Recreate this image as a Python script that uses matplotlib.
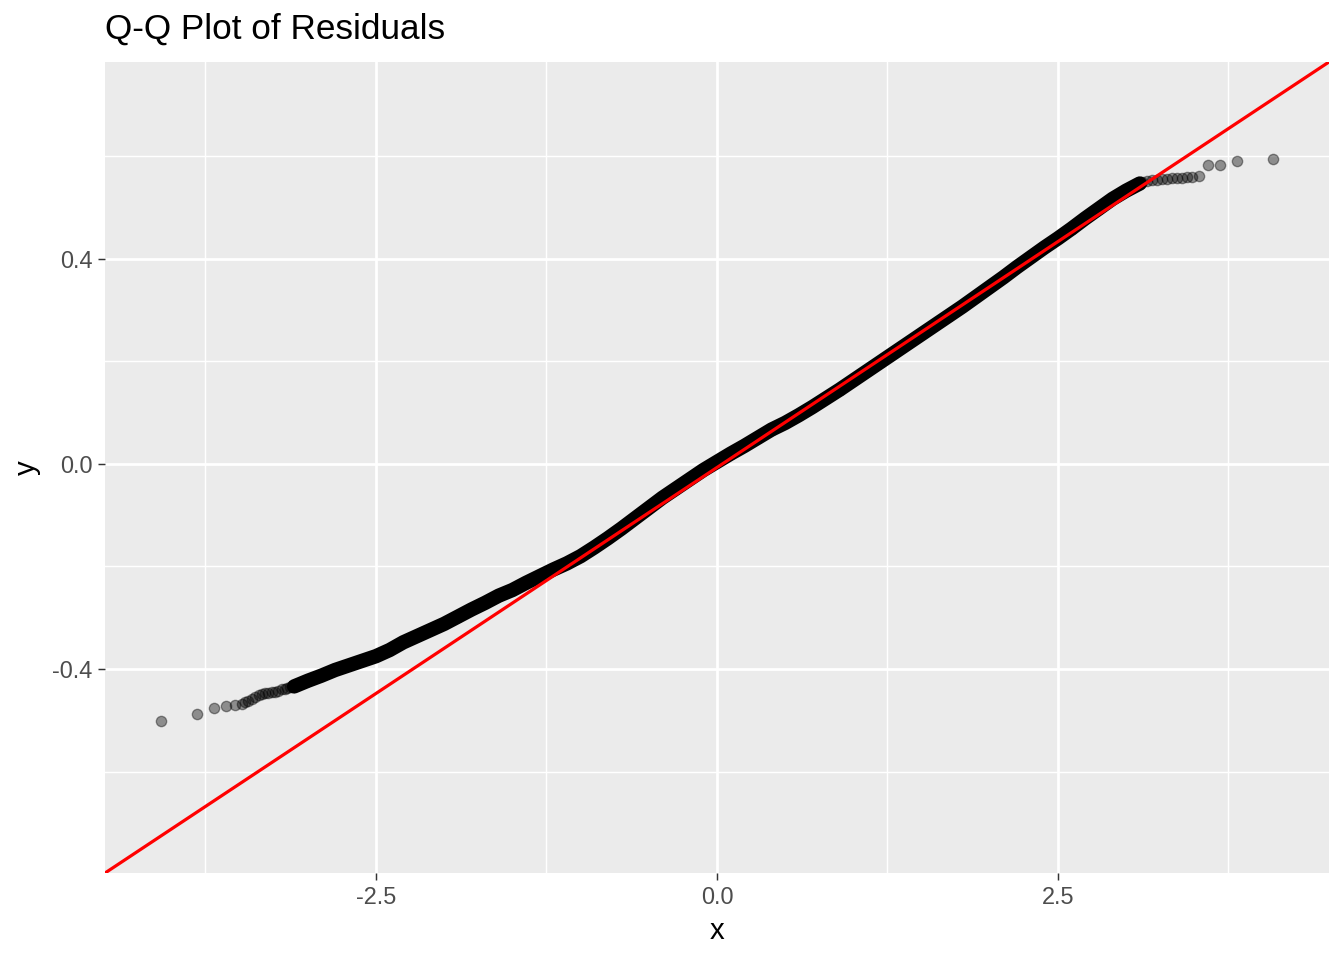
import matplotlib
matplotlib.use("Agg")
import matplotlib.pyplot as plt
from matplotlib.ticker import FixedLocator

plt.rcParams['font.family'] = ['Liberation Sans', 'DejaVu Sans']

# theoretical vs sample quantiles
# dense middle band (overplotted points)
band_x = [-3.1, -3.0, -2.9, -2.8, -2.7, -2.6, -2.5, -2.4, -2.3, -2.2, -2.1,
          -2.0, -1.9, -1.8, -1.7, -1.6, -1.5, -1.4, -1.3, -1.2, -1.1,
          -1.0, -0.9, -0.8, -0.7, -0.6, -0.5, -0.4, -0.3, -0.2, -0.1,
          0.0, 0.1, 0.2, 0.3, 0.4, 0.5, 0.6, 0.7, 0.8, 0.9,
          1.0, 1.1, 1.2, 1.3, 1.4, 1.5, 1.6, 1.7, 1.8, 1.9,
          2.0, 2.1, 2.2, 2.3, 2.4, 2.5, 2.6, 2.7, 2.8, 2.9, 3.0, 3.1]
band_y = [-0.434, -0.423, -0.413, -0.402, -0.393, -0.384, -0.375, -0.363, -0.348, -0.336, -0.324,
          -0.312, -0.298, -0.284, -0.271, -0.257, -0.246, -0.232, -0.219, -0.206, -0.194,
          -0.180, -0.163, -0.145, -0.126, -0.106, -0.086, -0.066, -0.048, -0.030, -0.012,
          0.004, 0.020, 0.035, 0.051, 0.067, 0.080, 0.095, 0.111, 0.128, 0.145,
          0.163, 0.181, 0.199, 0.217, 0.235, 0.253, 0.271, 0.289, 0.307, 0.326,
          0.345, 0.364, 0.384, 0.403, 0.422, 0.440, 0.459, 0.479, 0.498, 0.517, 0.533, 0.547]

# tail points that can still be told apart
low_x = [-4.078, -3.815, -3.688, -3.602, -3.534, -3.485, -3.46, -3.436, -3.41, -3.387,
         -3.36, -3.338, -3.31, -3.290, -3.265, -3.240, -3.215, -3.191, -3.17, -3.15,
         -3.13, -3.11]
low_y = [-0.501, -0.487, -0.476, -0.473, -0.470, -0.468, -0.465, -0.462, -0.458, -0.454,
         -0.451, -0.449, -0.447, -0.446, -0.445, -0.444, -0.442, -0.440, -0.439, -0.437,
         -0.436, -0.434]
high_x = [3.12, 3.150, 3.187, 3.224, 3.260, 3.297, 3.333, 3.370, 3.406, 3.443,
          3.485, 3.536, 3.602, 3.685, 3.815, 4.079]
high_y = [0.549, 0.551, 0.553, 0.554, 0.556, 0.556, 0.557, 0.557, 0.557, 0.559,
          0.560, 0.561, 0.583, 0.584, 0.590, 0.595]

# reference line
line_intercept = -0.007
line_slope = 0.1763

fig = plt.figure(figsize=(7, 5), dpi=192)
ax = fig.add_axes([0.0781, 0.0906, 0.9107, 0.8448])
ax.set_facecolor('#EBEBEB')

ax.plot(band_x, band_y, color='black', lw=5.4, solid_capstyle='round',
        solid_joinstyle='round', zorder=3)
ax.scatter(low_x + band_x + high_x, low_y + band_y + high_y, s=15,
           facecolor='black', edgecolor='black', linewidths=0.5, alpha=0.4, zorder=3)
ax.axline((0, line_intercept), slope=line_slope, color='red', lw=1.2, zorder=4)

ax.set_xlim(-4.487, 4.487)
ax.set_ylim(-0.798, 0.784)

ax.xaxis.set_major_locator(FixedLocator([-2.5, 0.0, 2.5]))
ax.xaxis.set_minor_locator(FixedLocator([-3.75, -1.25, 1.25, 3.75]))
ax.yaxis.set_major_locator(FixedLocator([-0.4, 0.0, 0.4]))
ax.yaxis.set_minor_locator(FixedLocator([-0.6, -0.2, 0.2, 0.6]))
ax.set_xticklabels(['-2.5', '0.0', '2.5'])
ax.set_yticklabels(['-0.4', '0.0', '0.4'])

ax.grid(which='major', color='white', lw=1.05)
ax.grid(which='minor', color='white', lw=0.55)
ax.set_axisbelow(True)
ax.tick_params(which='major', length=2.75, width=0.55, color='#333333',
               labelcolor='#4D4D4D', labelsize=8.8, pad=2)
ax.tick_params(which='minor', length=0)
for s in ax.spines.values():
    s.set_visible(False)

ax.set_xlabel('x', fontsize=11, labelpad=3)
ax.set_ylabel('y', fontsize=11, labelpad=4)
ax.set_title('Q-Q Plot of Residuals', loc='left', fontsize=13.2, pad=8.6)

fig.savefig('out.png', dpi=192)
